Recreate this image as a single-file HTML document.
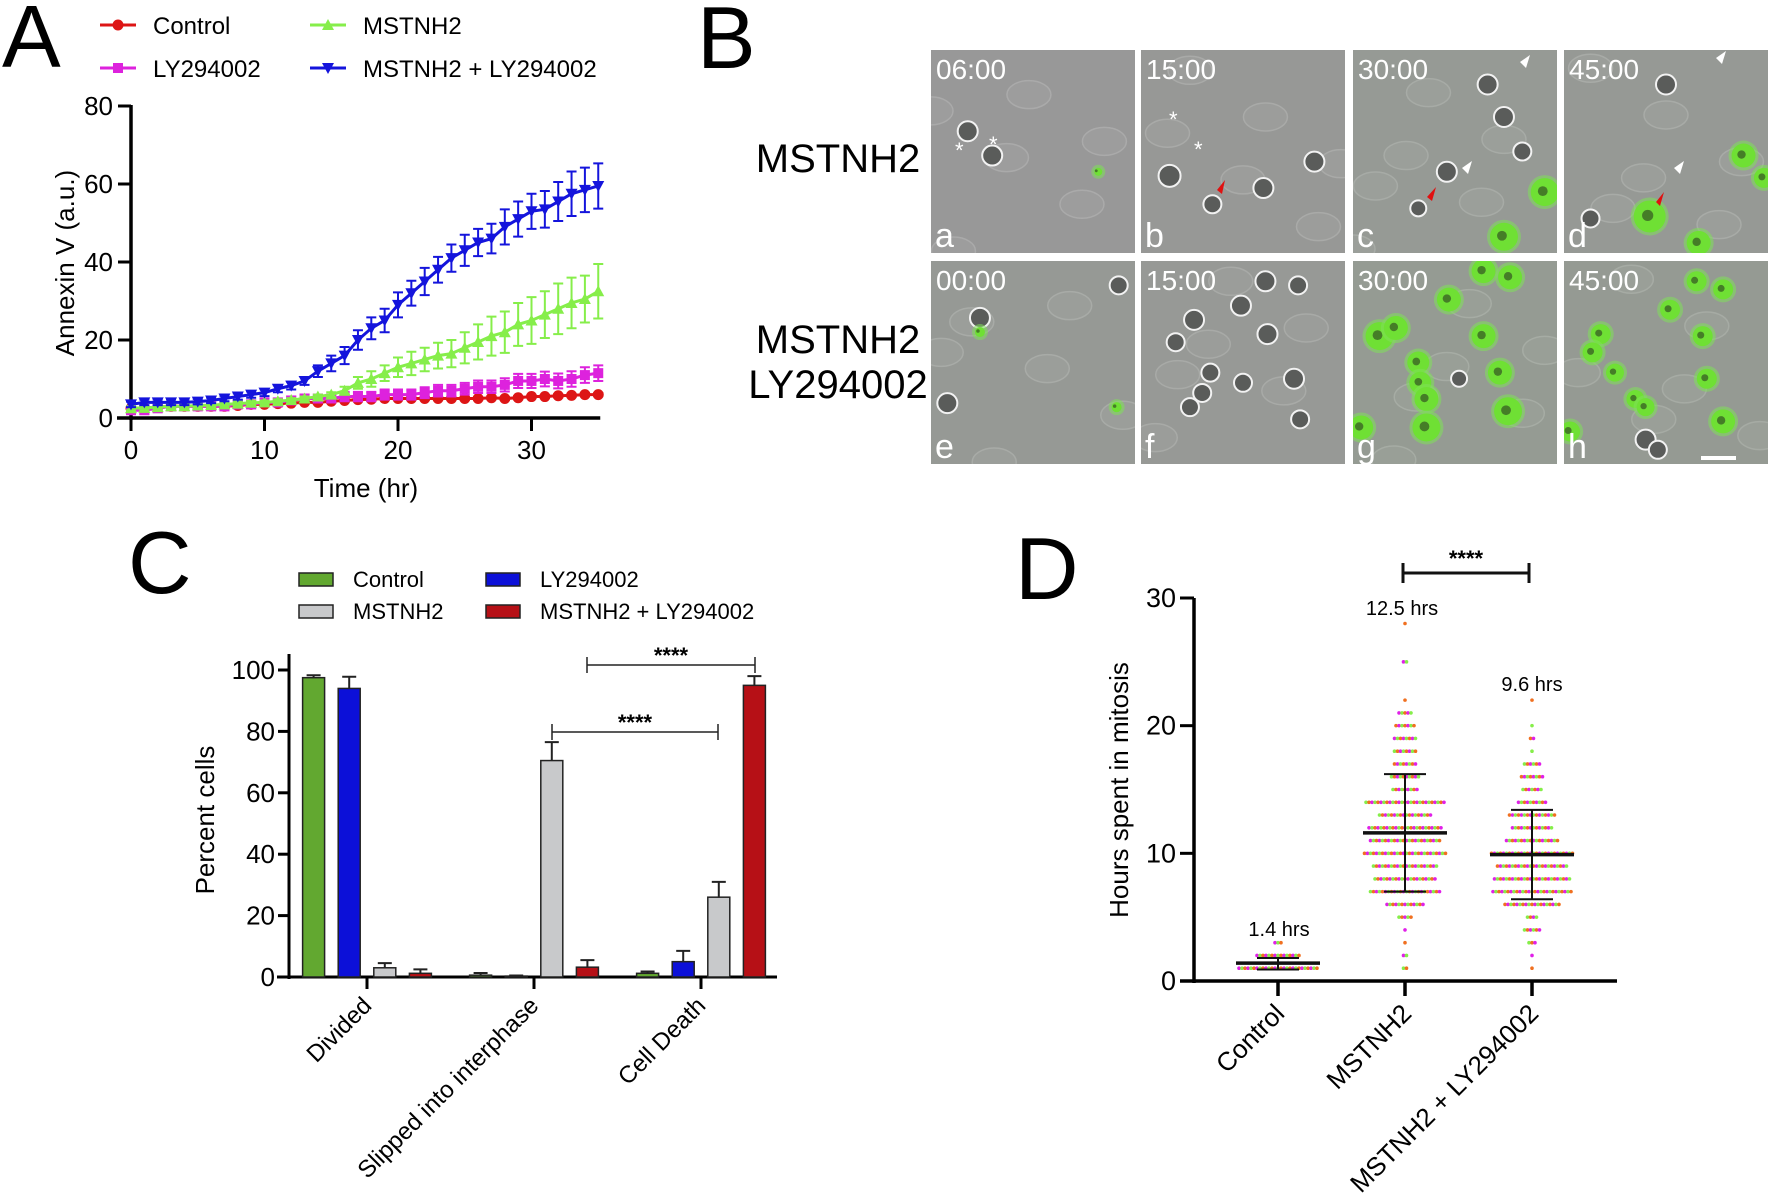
<!DOCTYPE html>
<html><head><meta charset="utf-8"><style>
html,body{margin:0;padding:0;background:#fff;}
svg{display:block;font-family:"Liberation Sans",Arial,sans-serif;}
</style></head><body>
<svg id="fig" width="1772" height="1204" viewBox="0 0 1772 1204" xmlns="http://www.w3.org/2000/svg">
<defs id="defs"></defs>
<g id="panelA"></g>
<g id="panelB"></g>
<g id="panelC"></g>
<g id="panelD"></g>
</svg>
<script>
// ---------- Panel A data ----------
const aHours = [0,1,2,3,4,5,6,7,8,9,10,11,12,13,14,15,16,17,18,19,20,21,22,23,24,25,26,27,28,29,30,31,32,33,34,35];
const aBlue = [3.5,4,4,4,4,4.2,4.5,5,5.5,6,6.5,7.5,8.3,9.5,12,14,16,20,23,25,29,32,35,38,41,43,45,46,49,51,53,53.5,55.5,57.5,58.5,59.5];
const aBlueErr = [0.7,0.7,0.7,0.7,0.7,0.7,0.7,0.7,0.8,0.8,0.9,0.9,1,1,1.5,2,2.2,2.5,2.8,3,3.2,3.2,3.5,3.3,3.5,4,3.5,3.8,4.5,4.5,4.5,4.7,5,5.7,5.7,5.8];
const aGreen = [2.5,2.6,2.8,3,3,3.2,3.3,3.5,3.7,3.9,4,4.3,4.6,5,5.5,6,7,9,10,11.5,13,14,15,16,16.5,18,19.5,21,22,24,25,26.5,28,29.5,30.5,32.5];
const aGreenErr = [0.5,0.5,0.5,0.5,0.5,0.5,0.5,0.5,0.5,0.5,0.5,0.5,0.5,0.5,0.5,0.6,1,1.5,2,2,2.5,3,3,3.3,3.5,4,4.5,5,5.3,5.5,6,6,6.5,6.5,6,7];
const aMag = [2,2,2.5,3,3,3,3,3,3.5,3.5,4,4,4.5,5,5,5,5.5,5.5,5.5,6,6,6,6.5,7,7,7.5,8,8,8.5,9.5,9.5,10,9.5,10,11,11.5];
const aMagErr = [1,1,1,1,1,1,1,1,1,1,1,1,1,1,1,1,1.2,1.2,1.2,1.3,1.3,1.3,1.4,1.5,1.5,1.5,1.6,1.6,1.7,1.8,1.8,1.9,1.9,2,2,2];
const aRed = [2.5,2.5,2.8,3,3,3,3,3,3.2,3.5,3.5,3.7,3.8,4,4,4.3,4.5,4.7,4.8,5,5,5,5,5,5,5,5,5.2,5,5.2,5.5,5.5,5.7,5.8,6,6];
const aRedErr = [0.4,0.4,0.4,0.4,0.4,0.4,0.4,0.4,0.4,0.4,0.4,0.4,0.4,0.4,0.4,0.4,0.4,0.4,0.4,0.4,0.4,0.4,0.4,0.4,0.4,0.4,0.4,0.4,0.4,0.4,0.4,0.4,0.4,0.4,0.4,0.4];
const aYTicks = [0,20,40,60,80];
const aXTicks = [0,10,20,30];

// ---------- Panel C data ----------
const cCategories = ["Divided","Slipped into interphase","Cell Death"];
const cSeries = ["Control","LY294002","MSTNH2","MSTNH2 + LY294002"];
const cControl = [97.5,0.6,1.2];
const cControlErr = [0.8,0.7,0.6];
const cLY = [94,0.3,5];
const cLYErr = [3.8,0.2,3.5];
const cMSTNH2 = [3,70.5,26];
const cMSTNH2Err = [1.5,6,5];
const cCombo = [1.2,3.2,95];
const cComboErr = [1.3,2.3,3];
const cYTicks = [0,20,40,60,80,100];

// ---------- Panel D data ----------
const dCategories = ["Control","MSTNH2","MSTNH2 + LY294002"];
const dHours = [1,2,3,4,5,6,7,8,9,10,11,12,13,14,15,16,17,18,19,20,21,22,23,24,25,26,27,28];
const dControlCounts = [27,15,3,0,0,0,0,0,0,0,0,0,0,0,0,0,0,0,0,0,0,0,0,0,0,0,0,0];
const dMstnCounts = [2,2,1,1,5,13,24,21,22,28,24,25,18,27,9,10,8,8,8,7,5,1,0,0,2,0,0,1];
const dComboCounts = [1,1,3,6,4,19,27,26,24,28,18,14,16,10,7,8,6,1,2,1,0,1,0,0,0,0,0,0];
const dMeans = [1.4,11.6,9.9];
const dSDLow = [0.9,7.0,6.4];
const dSDHigh = [1.8,16.2,13.4];
const dMeanLabels = ["1.4 hrs","12.5 hrs","9.6 hrs"];
const dYTicks = [0,10,20,30];

const NS="http://www.w3.org/2000/svg";
function mk(parent,tag,attrs,text){const e=document.createElementNS(NS,tag);for(const k in attrs)e.setAttribute(k,attrs[k]);if(text!==undefined)e.textContent=text;parent.appendChild(e);return e;}

// ======== Panel A ========
(function(){
const g=document.getElementById('panelA');
const X0=131,XPX=13.35,Y0=418,YPX=(418-106)/80;
const xs=h=>X0+h*XPX, ys=v=>Y0-v*YPX;
let t=mk(g,'text',{x:2,y:67,'font-size':88},'A');


let ax=mk(g,'line',{x1:X0,y1:ys(80)-1,x2:X0,y2:Y0+2,stroke:'#000','stroke-width':3.5});


ax=mk(g,'line',{x1:X0-14,y1:Y0,x2:xs(35)+2,y2:Y0,stroke:'#000','stroke-width':3.5});


aYTicks.forEach(v=>{
 mk(g,'line',{x1:X0-13,y1:ys(v),x2:X0,y2:ys(v),stroke:'#000','stroke-width':3});
 const l=mk(g,'text',{x:X0-18,y:ys(v)+9,'font-size':26,'text-anchor':'end'},String(v));
 
 
});
aXTicks.forEach(v=>{
 mk(g,'line',{x1:xs(v),y1:Y0,x2:xs(v),y2:Y0+13,stroke:'#000','stroke-width':3});
 const l=mk(g,'text',{x:xs(v),y:459,'font-size':26,'text-anchor':'middle'},String(v));
 
 
});
t=mk(g,'text',{x:366,y:497,'font-size':26,'text-anchor':'middle'},'Time (hr)');


t=mk(g,'text',{x:0,y:0,'font-size':26,'text-anchor':'middle',transform:'translate(74,263) rotate(-90)'},'Annexin V (a.u.)');



function marker(p,type,x,y,c){
 if(type==='circle')return mk(p,'circle',{cx:x,cy:y,r:5.5,fill:c});
 if(type==='square')return mk(p,'rect',{x:x-5,y:y-5,width:10,height:10,fill:c});
 if(type==='up')return mk(p,'polygon',{points:`${x},${y-6} ${x-6},${y+5} ${x+6},${y+5}`,fill:c});
 return mk(p,'polygon',{points:`${x},${y+6} ${x-6},${y-5} ${x+6},${y-5}`,fill:c});
}
const series=[
 {name:'mstnh2-ly294002',vals:aBlue,err:aBlueErr,c:'#1414dc',m:'down'},
 {name:'mstnh2',vals:aGreen,err:aGreenErr,c:'#86ee4a',m:'up'},
 {name:'ly294002',vals:aMag,err:aMagErr,c:'#dd22dd',m:'square'},
 {name:'control',vals:aRed,err:aRedErr,c:'#dd1515',m:'circle'}
];
series.slice().reverse().forEach(s=>{
 const sg=mk(g,'g',{});
 
 
 mk(sg,'polyline',{points:aHours.map((h,i)=>xs(h)+','+ys(s.vals[i])).join(' '),fill:'none',stroke:s.c,'stroke-width':3});
 aHours.forEach((h,i)=>{
  const x=xs(h),y1=ys(s.vals[i]+s.err[i]),y2=ys(s.vals[i]-s.err[i]);
  mk(sg,'path',{d:`M${x},${y1}V${y2}M${x-5},${y1}H${x+5}M${x-5},${y2}H${x+5}`,stroke:s.c,'stroke-width':2,fill:'none'});
  const m=marker(sg,s.m,x,ys(s.vals[i]),s.c);
  
  
 });
});
const leg=[['control','Control',100,25],['mstnh2','MSTNH2',310,25],['ly294002','LY294002',100,68],['mstnh2-ly294002','MSTNH2 + LY294002',310,68]];
leg.forEach(l=>{
 const s=series.find(q=>q.name===l[0]);
 const lg=mk(g,'g',{});
 
 
 mk(lg,'line',{x1:l[2],y1:l[3],x2:l[2]+36,y2:l[3],stroke:s.c,'stroke-width':3});
 marker(lg,s.m,l[2]+18,l[3],s.c);
 mk(lg,'text',{x:l[2]+53,y:l[3]+9,'font-size':24},l[1]);
});
})();

// ======== Panel B ========
(function(){
const g=document.getElementById('panelB');
const defs=document.getElementById('defs');
let t=mk(g,'text',{x:697,y:68,'font-size':88},'B');


t=mk(g,'text',{x:838,y:172,'font-size':40,'text-anchor':'middle'},'MSTNH2');


t=mk(g,'text',{x:838,y:353,'font-size':40,'text-anchor':'middle'},'MSTNH2');


t=mk(g,'text',{x:838,y:398,'font-size':40,'text-anchor':'middle'},'LY294002');


const cols=[931,1141,1353,1564], rows=[50,261], W=204,H=203;
const times=[['06:00','15:00','30:00','45:00'],['00:00','15:00','30:00','45:00']];
const letters=[['a','b','c','d'],['e','f','g','h']];
const cells=[
 [[0.18,0.4,10,0],[0.3,0.52,10,0],[0.82,0.6,4,1]],
 [[0.14,0.62,11,0],[0.6,0.68,10,0],[0.35,0.76,9,0],[0.85,0.55,10,0]],
 [[0.66,0.17,10,0],[0.74,0.33,10,0],[0.46,0.6,10,0],[0.32,0.78,8,0],[0.83,0.5,9,0],[0.94,0.7,14,1],[0.74,0.92,14,1]],
 [[0.5,0.17,10,0],[0.88,0.52,12,1],[0.42,0.82,16,1],[0.66,0.95,12,1],[0.98,0.63,10,1],[0.13,0.83,9,0]],
 [[0.24,0.28,10,0],[0.92,0.12,9,0],[0.08,0.7,10,0],[0.24,0.35,5,1],[0.91,0.72,5,1]],
 [[0.61,0.1,10,0],[0.77,0.12,9,0],[0.49,0.22,10,0],[0.26,0.29,10,0],[0.17,0.4,9,0],[0.62,0.36,10,0],[0.34,0.55,9,0],[0.3,0.65,9,0],[0.24,0.72,9,0],[0.5,0.6,9,0],[0.75,0.58,10,0],[0.78,0.78,9,0]],
 [[0.64,0.05,12,1],[0.77,0.08,12,1],[0.47,0.19,12,1],[0.13,0.37,14,1],[0.21,0.33,12,1],[0.64,0.37,12,1],[0.32,0.5,11,1],[0.33,0.6,11,1],[0.36,0.68,12,1],[0.52,0.58,8,0],[0.72,0.55,12,1],[0.76,0.74,14,1],[0.36,0.82,14,1],[0.04,0.82,12,1]],
 [[0.65,0.1,10,1],[0.78,0.14,10,1],[0.52,0.24,10,1],[0.18,0.36,10,1],[0.14,0.45,10,1],[0.68,0.37,10,1],[0.25,0.55,9,1],[0.35,0.68,9,1],[0.4,0.72,9,1],[0.7,0.58,10,1],[0.78,0.79,12,1],[0.4,0.88,10,0],[0.46,0.93,9,0],[0.03,0.84,10,1]]
];
const green=[0,0.05,0.1,0.12,0.12,0.06,0.2,0.18];
rows.forEach((ry,ri)=>cols.forEach((cx,ci)=>{
 const k=ri*4+ci;
 const cp=mk(defs,'clipPath',{id:'clip'+k});
 mk(cp,'rect',{x:cx,y:ry,width:W,height:H});
 const pg=mk(g,'g',{'clip-path':'url(#clip'+k+')'});
 
 
 mk(pg,'rect',{x:cx,y:ry,width:W,height:H,fill:'#989898'});
 for(let j=0;j<6;j++){
  mk(pg,'ellipse',{cx:cx+W*((j*0.37+0.13*ci+0.2*ri)%1),cy:ry+H*((j*0.23+0.11*ci+0.3)%1),rx:22,ry:14,fill:'#9d9d9d',stroke:'#aaaaaa','stroke-width':1.5});
 }
 if(green[k]>0)mk(pg,'rect',{x:cx,y:ry,width:W,height:H,fill:'#6bd04a',opacity:green[k]*0.3});
 cells[k].forEach(c=>{
  const x=cx+W*c[0],y=ry+H*c[1];
  if(c[3]){
   mk(pg,'circle',{cx:x,cy:y,r:c[2]+3,fill:'#7fe05a',opacity:0.55});
   mk(pg,'circle',{cx:x,cy:y,r:c[2],fill:'#6fe034'});
   mk(pg,'circle',{cx:x-2,cy:y-1,r:c[2]*0.35,fill:'#2a3a20',opacity:0.6});
  }else{
   mk(pg,'circle',{cx:x,cy:y,r:c[2],fill:'#5a5c5a',stroke:'#f2f2f2','stroke-width':2});
  }
 });
 const tt=mk(pg,'text',{x:cx+5,y:ry+29,'font-size':28,fill:'#fff'},times[ri][ci]);
 
 
 const lt=mk(pg,'text',{x:cx+4,y:ry+H-6,'font-size':34,fill:'#fff'},letters[ri][ci]);
 
 
}));
mk(g,'text',{x:955,y:158,'font-size':22,fill:'#fff'},'*');
mk(g,'text',{x:989,y:152,'font-size':22,fill:'#fff'},'*');
mk(g,'text',{x:1169,y:127,'font-size':22,fill:'#fff'},'*');
mk(g,'text',{x:1194,y:157,'font-size':22,fill:'#fff'},'*');
mk(g,'polygon',{points:'1217,190 1225,180 1222,194',fill:'#e01010'});
mk(g,'polygon',{points:'1427,197 1436,187 1432,201',fill:'#e01010'});
mk(g,'polygon',{points:'1656,202 1664,192 1660,206',fill:'#e01010'});
mk(g,'polygon',{points:'1520,62 1530,55 1526,68',fill:'#fff'});
mk(g,'polygon',{points:'1462,168 1472,161 1468,174',fill:'#fff'});
mk(g,'polygon',{points:'1716,58 1726,51 1722,64',fill:'#fff'});
mk(g,'polygon',{points:'1674,168 1684,161 1680,174',fill:'#fff'});
const sb=mk(g,'rect',{x:1701,y:456,width:35,height:4,fill:'#fff'});


})();

// ======== Panel C ========
(function(){
const g=document.getElementById('panelC');
const XA=289,Y0=977,YPX=3.07,G0=367,GS=167,OFF=[-53.4,-17.8,17.8,53.4],BW=22;
const ys=v=>Y0-v*YPX, gx=i=>G0+i*GS;
let t=mk(g,'text',{x:128,y:593,'font-size':88},'C');


const colors=['#62a830','#0c10d8','#c8c9cb','#b61016'];
const lg=[[0,'Control',299,579],[1,'LY294002',486,579],[2,'MSTNH2',299,611],[3,'MSTNH2 + LY294002',486,611]];
lg.forEach(l=>{
 const e=mk(g,'g',{});
 
 
 mk(e,'rect',{x:l[2],y:l[3]-6,width:34,height:13,fill:colors[l[0]],stroke:'#222','stroke-width':1.5});
 mk(e,'text',{x:l[2]+54,y:l[3]+8,'font-size':22},l[1]);
});
let ax=mk(g,'line',{x1:XA,y1:654,x2:XA,y2:Y0+2,stroke:'#000','stroke-width':3});


ax=mk(g,'line',{x1:XA-12,y1:Y0,x2:777,y2:Y0,stroke:'#000','stroke-width':3});


cYTicks.forEach(v=>{
 mk(g,'line',{x1:XA-11,y1:ys(v),x2:XA,y2:ys(v),stroke:'#000','stroke-width':3});
 const l=mk(g,'text',{x:XA-14,y:ys(v)+9,'font-size':26,'text-anchor':'end'},String(v));
 
 
});
t=mk(g,'text',{x:0,y:0,'font-size':26,'text-anchor':'middle',transform:'translate(214,820) rotate(-90)'},'Percent cells');


const vals=[cControl,cLY,cMSTNH2,cCombo], errs=[cControlErr,cLYErr,cMSTNH2Err,cComboErr];
cCategories.forEach((cat,ci)=>{
 mk(g,'line',{x1:gx(ci),y1:Y0,x2:gx(ci),y2:Y0+12,stroke:'#000','stroke-width':3});
 const l=mk(g,'text',{x:0,y:0,'font-size':24,'text-anchor':'end',transform:`translate(${gx(ci)+6},${Y0+30}) rotate(-45)`},cat);
 
 
 vals.forEach((arr,si)=>{
  const x=gx(ci)+OFF[si], v=arr[ci], e=errs[si][ci];
  const top=ys(v+e);
  mk(g,'path',{d:`M${x},${ys(v)}V${top}M${x-7},${top}H${x+7}`,stroke:'#222','stroke-width':2,fill:'none'});
  const b=mk(g,'rect',{x:x-BW/2,y:ys(v),width:BW,height:Y0-ys(v),fill:colors[si],stroke:'#222','stroke-width':1.5});
  
  
 });
});
function br(x1,x2,y,name){
 const e=mk(g,'g',{});
 
 
 mk(e,'path',{d:`M${x1},${y+8}V${y-8}M${x1},${y}H${x2}M${x2},${y-8}V${y+8}`,stroke:'#222','stroke-width':1.5,fill:'none'});
 mk(e,'text',{x:(x1+x2)/2,y:y-2,'font-size':22,'text-anchor':'middle','font-weight':'bold'},'****');
}
br(587,755,665,'c-significance-upper');
br(552,718,732,'c-significance-lower');
})();

// ======== Panel D ========
(function(){
const g=document.getElementById('panelD');
const XA=1194,Y0=981,YPX=(981-598)/30,CX=[1278,1405,1532],DS=3.0,R=1.8;
const ys=v=>Y0-v*YPX;
let t=mk(g,'text',{x:1015,y:599,'font-size':88},'D');


let ax=mk(g,'line',{x1:XA,y1:598,x2:XA,y2:Y0+2,stroke:'#000','stroke-width':3.5});


ax=mk(g,'line',{x1:XA-14,y1:Y0,x2:1617,y2:Y0,stroke:'#000','stroke-width':3.5});


dYTicks.forEach(v=>{
 mk(g,'line',{x1:XA-14,y1:ys(v),x2:XA,y2:ys(v),stroke:'#000','stroke-width':3});
 const l=mk(g,'text',{x:XA-18,y:ys(v)+9,'font-size':27,'text-anchor':'end'},String(v));
 
 
});
t=mk(g,'text',{x:0,y:0,'font-size':26,'text-anchor':'middle',transform:'translate(1128,790) rotate(-90)'},'Hours spent in mitosis');


const dotColors=['#e020e8','#86ee4a','#f07020'];
const counts=[dControlCounts,dMstnCounts,dComboCounts];
dCategories.forEach((cat,ci)=>{
 mk(g,'line',{x1:CX[ci],y1:Y0,x2:CX[ci],y2:Y0+15,stroke:'#000','stroke-width':3.5});
 const l=mk(g,'text',{x:0,y:0,'font-size':26,'text-anchor':'end',transform:`translate(${CX[ci]+8},${Y0+34}) rotate(-45)`},cat);
 
 
 const dg=mk(g,'g',{});
 
 
 let ck=ci;
 dHours.forEach((h,hi)=>{
  const n=counts[ci][hi];
  for(let j=0;j<n;j++){
   const x=CX[ci]+(j-(n-1)/2)*DS;
   mk(dg,'circle',{cx:x,cy:ys(h),r:R,fill:dotColors[(ck++)%3]});
  }
 });
 const sg=mk(g,'g',{});
 
 
 const x=CX[ci];
 mk(sg,'path',{d:`M${x},${ys(dSDHigh[ci])}V${ys(dSDLow[ci])}M${x-21},${ys(dSDHigh[ci])}H${x+21}M${x-21},${ys(dSDLow[ci])}H${x+21}`,stroke:'#111','stroke-width':2,fill:'none'});
 mk(sg,'line',{x1:x-42,y1:ys(dMeans[ci]),x2:x+42,y2:ys(dMeans[ci]),stroke:'#111','stroke-width':3.5});
});
const lab=[[1279,928],[1402,607],[1532,683]];
dMeanLabels.forEach((s,i)=>{
 const l=mk(g,'text',{x:lab[i][0],y:lab[i][1]+8,'font-size':20,'text-anchor':'middle'},s);
 
 
});
const bg=mk(g,'g',{});


mk(bg,'path',{d:'M1403,563V583M1403,573H1529M1529,563V583',stroke:'#111','stroke-width':3,fill:'none'});
mk(bg,'text',{x:1466,y:566,'font-size':22,'text-anchor':'middle','font-weight':'bold'},'****');
})();
</script>
</body></html>
